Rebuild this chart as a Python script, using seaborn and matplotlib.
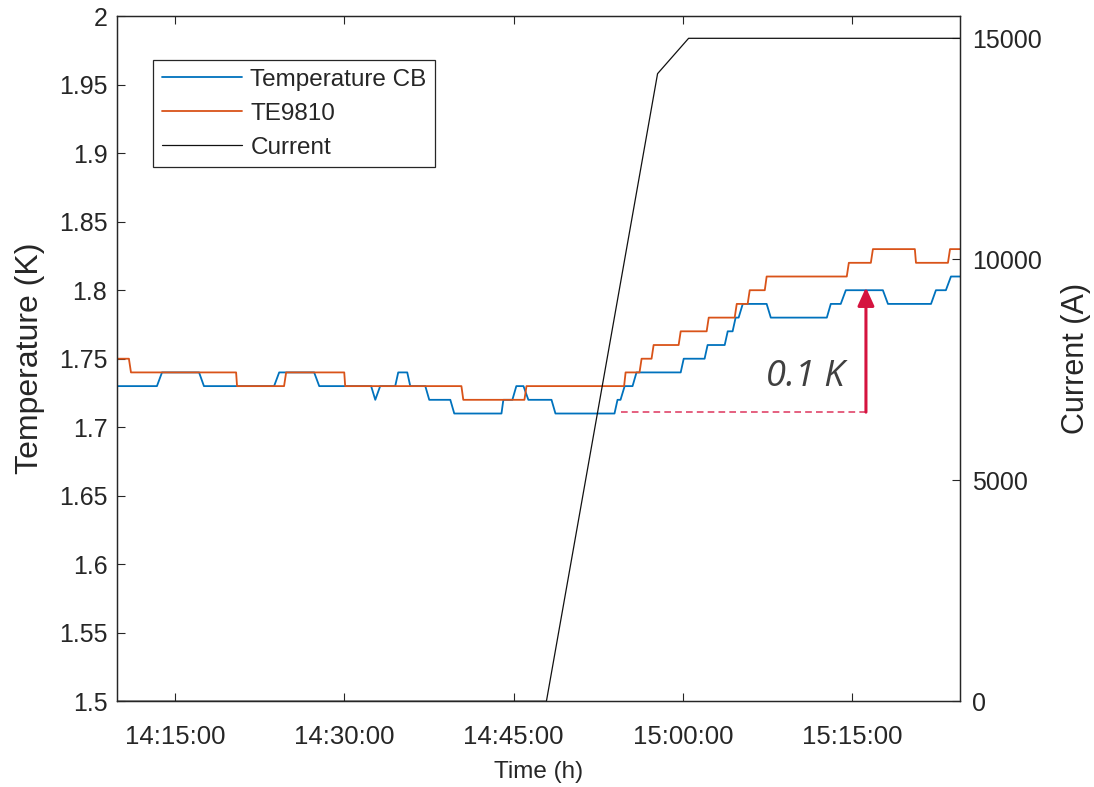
import matplotlib
matplotlib.use('Agg')
import matplotlib.pyplot as plt
import matplotlib.dates as mdates
from matplotlib.ticker import MultipleLocator, FuncFormatter
import pandas as pd
import seaborn as sns

# --- data ---
day = '2024-01-01 '

cb_time = ["14:09:52", "14:13:24", "14:13:51", "14:17:08", "14:17:34", "14:23:47", "14:24:14",
           "14:27:20", "14:27:47", "14:32:23", "14:32:45", "14:33:11", "14:34:31", "14:34:47",
           "14:35:35", "14:35:51", "14:37:11", "14:37:32", "14:39:24", "14:39:45", "14:43:56",
           "14:44:06", "14:44:54", "14:45:15", "14:45:53", "14:46:19", "14:48:22", "14:48:43",
           "14:53:57", "14:54:13", "14:54:29", "14:54:51", "14:55:33", "14:55:54", "14:59:49",
           "15:00:05", "15:01:56", "15:02:12", "15:03:43", "15:03:59", "15:04:25", "15:04:41",
           "15:04:57", "15:05:19", "15:07:26", "15:07:48", "15:12:46", "15:13:07", "15:14:00",
           "15:14:27", "15:17:44", "15:18:11", "15:22:00", "15:22:26", "15:23:19", "15:23:46",
           "15:24:34"]
cb_temp = [1.73, 1.73, 1.74, 1.74, 1.73, 1.73, 1.74,
           1.74, 1.73, 1.73, 1.72, 1.73, 1.73, 1.74,
           1.74, 1.73, 1.73, 1.72, 1.72, 1.71, 1.71,
           1.72, 1.72, 1.73, 1.73, 1.72, 1.72, 1.71,
           1.71, 1.72, 1.72, 1.73, 1.73, 1.74, 1.74,
           1.75, 1.75, 1.76, 1.76, 1.77, 1.77, 1.78,
           1.78, 1.79, 1.79, 1.78, 1.78, 1.79, 1.79,
           1.80, 1.80, 1.79, 1.79, 1.80, 1.80, 1.81,
           1.81]

te_time = ["14:09:52", "14:10:55", "14:11:06", "14:20:25", "14:20:30", "14:24:40", "14:24:51",
           "14:30:00", "14:30:05", "14:40:23", "14:40:33", "14:45:58", "14:46:09", "14:54:48",
           "14:54:56", "14:56:10", "14:56:21", "14:57:14", "14:57:25", "14:59:38", "14:59:49",
           "15:02:07", "15:02:18", "15:04:36", "15:04:47", "15:05:45", "15:05:56", "15:07:16",
           "15:07:26", "15:14:32", "15:14:43", "15:16:40", "15:16:51", "15:20:34", "15:20:40",
           "15:23:30", "15:23:41", "15:24:34"]
te_temp = [1.75, 1.75, 1.74, 1.74, 1.73, 1.73, 1.74,
           1.74, 1.73, 1.73, 1.72, 1.72, 1.73, 1.73,
           1.74, 1.74, 1.75, 1.75, 1.76, 1.76, 1.77,
           1.77, 1.78, 1.78, 1.79, 1.79, 1.80, 1.80,
           1.81, 1.81, 1.82, 1.82, 1.83, 1.83, 1.82,
           1.82, 1.83, 1.83]

cur_time = ["14:09:52", "14:47:55", "14:57:46", "15:00:31", "15:24:34"]
cur_amp = [0, 0, 14200, 15000, 15000]

# annotation of the 0.1 K rise
gap_time = ["14:54:29", "15:16:14"]
gap_base = 1.711
gap_top = 1.802
gap_label = "0.1 K"
gap_label_time = "15:10:50"
gap_label_level = 1.73

x_range = ["14:09:52", "15:24:34"]


def to_dt(ts):
    return pd.to_datetime([day + t for t in ts])


blue = '#0072BD'
orange = '#D95319'
red = '#D5133F'
dark = '#262626'

sns.set_theme(style='white')
plt.rcParams['font.family'] = ['Liberation Sans', 'DejaVu Sans']
plt.rcParams['axes.edgecolor'] = dark
plt.rcParams['axes.linewidth'] = 0.9

fig = plt.figure(figsize=(10.94, 7.87), dpi=100)
ax = fig.add_axes([0.107, 0.109, 0.7705, 0.8704])
ax2 = ax.twinx()

sns.lineplot(x=to_dt(cb_time), y=cb_temp, ax=ax, color=blue, lw=1.3,
             estimator=None, sort=False, legend=False)
sns.lineplot(x=to_dt(te_time), y=te_temp, ax=ax, color=orange, lw=1.3,
             estimator=None, sort=False, legend=False)
sns.lineplot(x=to_dt(cur_time), y=cur_amp, ax=ax2, color='#111111', lw=0.9,
             estimator=None, sort=False, legend=False)

xr = to_dt(x_range)
ax.set_xlim(xr[0], xr[1])
ax.set_ylim(1.5, 2.0)
ax2.set_ylim(0, 15500)

ax.xaxis.set_major_locator(mdates.MinuteLocator(byminute=[0, 15, 30, 45]))
ax.xaxis.set_major_formatter(mdates.DateFormatter('%H:%M:%S'))
ax.yaxis.set_major_locator(MultipleLocator(0.05))
ax.yaxis.set_major_formatter(FuncFormatter(lambda v, p: f'{v:g}'))
ax2.yaxis.set_major_locator(MultipleLocator(5000))
ax2.yaxis.set_major_formatter(FuncFormatter(lambda v, p: f'{v:g}'))

ax.tick_params(axis='x', direction='in', top=True, bottom=True, length=6, width=0.8,
               colors=dark, labelsize=18.5, pad=17)
ax.tick_params(axis='y', direction='in', left=True, right=False, length=6, width=0.8,
               colors=dark, labelsize=18, pad=7)
ax2.tick_params(axis='y', direction='in', right=True, length=6, width=0.8,
                colors=dark, labelsize=18, pad=8.5)

ax.set_xlabel('Time (h)', fontsize=17.5, color=dark, labelpad=9)
ax.set_ylabel('Temperature (K)', fontsize=23, color=dark, labelpad=10)
ax2.set_ylabel('Current (A)', fontsize=22, color=dark, labelpad=14)

# annotation: dashed reference, arrow and label
gt = mdates.date2num(to_dt(gap_time))
ax.plot(gt, [gap_base, gap_base], color='#E0446A', lw=1.2, ls=(0, (4, 2.5)))
ax.annotate('', xy=(gt[1], gap_top), xytext=(gt[1], gap_base),
            arrowprops=dict(arrowstyle='-|>,head_length=0.55,head_width=0.25',
                            color=red, lw=2.2, mutation_scale=20, shrinkA=0, shrinkB=0))
ax.text(mdates.date2num(to_dt([gap_label_time]))[0], gap_label_level, gap_label,
        fontsize=26, style='italic', color='#404040', ha='center', va='baseline',
        family=['Open Sans', 'DejaVu Sans'])

handles = ax.get_lines()[:2] + ax2.get_lines()[:1]
labels = ['Temperature CB', 'TE9810', 'Current']
leg = ax2.legend(handles, labels, loc='upper left', bbox_to_anchor=(0.0427, 0.936),
                 borderaxespad=0, fontsize=17.5, frameon=True, fancybox=False,
                 edgecolor=dark, framealpha=1, handlelength=3.3, handletextpad=0.35,
                 labelspacing=0.5, borderpad=0.35)
leg.get_frame().set_linewidth(0.9)
for t in leg.get_texts():
    t.set_color(dark)

fig.savefig('out.png', dpi=100)
